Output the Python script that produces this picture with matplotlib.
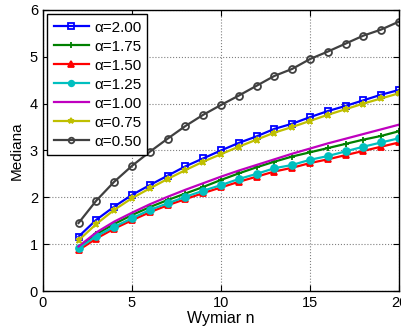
import numpy as np
import matplotlib
matplotlib.use('Agg')
import matplotlib.pyplot as plt

plt.rcParams['font.family'] = ['Liberation Sans', 'DejaVu Sans']

n = np.arange(2, 21)
labels = ['α=2.00', 'α=1.75', 'α=1.50', 'α=1.25', 'α=1.00', 'α=0.75', 'α=0.50']
a200 = [1.16, 1.52, 1.80, 2.05, 2.26, 2.46, 2.66, 2.83, 3.00, 3.16, 3.30, 3.46, 3.57, 3.71, 3.84, 3.95, 4.07, 4.19, 4.29]
a175 = [0.92, 1.21, 1.43, 1.62, 1.79, 1.94, 2.08, 2.22, 2.37, 2.51, 2.64, 2.76, 2.87, 2.96, 3.05, 3.14, 3.23, 3.31, 3.41]
a150 = [0.87, 1.12, 1.33, 1.51, 1.68, 1.83, 1.96, 2.09, 2.21, 2.33, 2.44, 2.55, 2.63, 2.73, 2.81, 2.90, 2.99, 3.08, 3.17]
a125 = [0.91, 1.17, 1.37, 1.55, 1.73, 1.87, 2.01, 2.14, 2.26, 2.39, 2.50, 2.62, 2.69, 2.80, 2.88, 2.98, 3.08, 3.17, 3.26]
a100 = [0.95, 1.25, 1.48, 1.67, 1.85, 2.01, 2.16, 2.30, 2.44, 2.57, 2.69, 2.81, 2.93, 3.04, 3.15, 3.25, 3.35, 3.45, 3.55]
a075 = [1.08, 1.43, 1.73, 1.98, 2.19, 2.39, 2.58, 2.76, 2.92, 3.08, 3.23, 3.38, 3.50, 3.63, 3.76, 3.88, 4.00, 4.11, 4.22]
a050 = [1.45, 1.93, 2.33, 2.67, 2.97, 3.25, 3.52, 3.76, 3.97, 4.17, 4.38, 4.59, 4.74, 4.95, 5.11, 5.28, 5.45, 5.58, 5.75]

series = [a200, a175, a150, a125, a100, a075, a050]
colors = ['#0000ff', '#008000', '#ff0000', '#00bfbf', '#bf00bf', '#bfbf00', '#404040']
markers = ['s', '+', '^', 'o', '', '*', 'o']
facecols = ['none', '#008000', '#ff0000', '#00bfbf', 'none', '#bfbf00', 'none']

fig = plt.figure(figsize=(4.01, 3.29), dpi=100)
ax = fig.add_axes([0.107, 0.1155, 0.888, 0.8545])

for y, c, m, fc, lab in zip(series, colors, markers, facecols, labels):
    ax.plot(n, y, color=c, marker=m if m else None, mfc=fc, mec=c, ms=5, mew=1.3,
            lw=1.6, label=lab)

ax.set_xlim(0, 20)
ax.set_ylim(0, 6)
ax.set_xticks([0, 5, 10, 15, 20])
ax.set_yticks([0, 1, 2, 3, 4, 5, 6])
ax.grid(True, linestyle=':', color='#808080', lw=0.8)
ax.tick_params(direction='in', top=True, right=True, labelsize=10.5, length=4)
for s in ax.spines.values():
    s.set_linewidth(1.0)
ax.set_xlabel('Wymiar n', fontsize=11.5, labelpad=1)
ax.set_ylabel('Mediana', fontsize=11, labelpad=4)

leg = ax.legend(loc='upper left', fontsize=11, fancybox=False, framealpha=1,
                edgecolor='black', handlelength=2.3, labelspacing=0.33,
                borderaxespad=0.3, handletextpad=0.35, borderpad=0.4,
                markerscale=0.8)
leg.get_frame().set_linewidth(1.0)

fig.savefig('out.png', dpi=100)
